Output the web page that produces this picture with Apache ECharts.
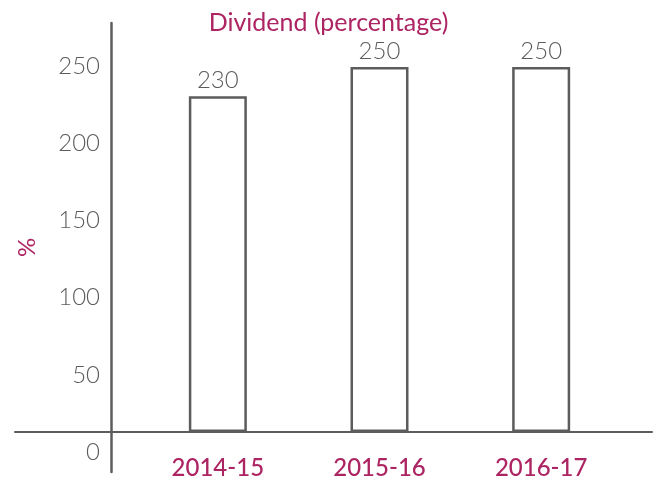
<!DOCTYPE html>
<html>
<head>
    <meta charset="utf-8">
    <title>Dividend</title>
    <style>
        html, body { margin: 0; padding: 0; background: #fff; }
        #main { width: 657px; height: 482px; }
    </style>
</head>
<body>
<div id="main"></div>
<script src="https://cdn.jsdelivr.net/npm/echarts@6/dist/echarts.min.js"></script>
<script>
    var years = ['2014-15', '2015-16', '2016-17'];
    var dividend = [230, 250, 250];
    var tickMin = 0, tickMax = 250, tickStep = 50;

    var crimson = '#ad2462';
    var grey = '#5c5c5c';
    var font = 'Lato, "Open Sans", sans-serif';

    var myChart = echarts.init(document.getElementById('main'));
    var option = {
        animation: false,
        title: {
            text: 'Dividend (percentage)',
            left: 'center',
            top: 5,
            textStyle: {color: crimson, fontSize: 25, fontWeight: 'normal', fontFamily: font}
        },
        grid: [
            // bars + y axis line
            {left: 137, right: 35, top: 23, bottom: 10, outerBoundsMode: 'none', containLabel: false},
            // full width baseline
            {left: 15, right: 5, top: 23, bottom: 50, outerBoundsMode: 'none', containLabel: false},
            // tick labels + category labels
            {left: 137, right: 35, top: 66, bottom: 30, outerBoundsMode: 'none', containLabel: false}
        ],
        xAxis: [
            {gridIndex: 0, type: 'category', data: years, show: false},
            {
                gridIndex: 1,
                type: 'value',
                axisLine: {show: true, lineStyle: {color: grey, width: 2}},
                axisTick: {show: false},
                axisLabel: {show: false},
                splitLine: {show: false}
            },
            {
                gridIndex: 2,
                type: 'category',
                data: years,
                axisLine: {show: false},
                axisTick: {show: false},
                axisLabel: {color: crimson, fontSize: 24, fontFamily: font, fontWeight: 500, margin: 4}
            }
        ],
        yAxis: [
            {
                gridIndex: 0,
                type: 'value',
                min: -27.4,
                max: 280.1,
                offset: 26,
                name: '%',
                nameLocation: 'middle',
                nameGap: 72,
                nameRotate: 90,
                nameTextStyle: {color: crimson, fontSize: 24, fontFamily: font},
                axisLine: {show: true, lineStyle: {color: grey, width: 2.5}},
                axisTick: {show: false},
                axisLabel: {show: false},
                splitLine: {show: false}
            },
            {gridIndex: 1, type: 'value', show: false, splitLine: {show: false}},
            {
                gridIndex: 2,
                type: 'value',
                min: tickMin,
                max: tickMax,
                interval: tickStep,
                offset: 26,
                axisLine: {show: false},
                axisTick: {show: false},
                splitLine: {show: false},
                axisLabel: {color: grey, fontSize: 24, fontFamily: font, fontWeight: 300, margin: 11}
            }
        ],
        series: [{
            type: 'bar',
            xAxisIndex: 0,
            yAxisIndex: 0,
            data: dividend,
            barWidth: 58,
            itemStyle: {color: '#ffffff', borderColor: grey, borderWidth: 2.5},
            label: {
                show: true,
                position: 'top',
                distance: 4,
                color: grey,
                fontSize: 24,
                fontFamily: font,
                fontWeight: 300
            }
        }]
    };
    myChart.setOption(option);
</script>
</body>
</html>
